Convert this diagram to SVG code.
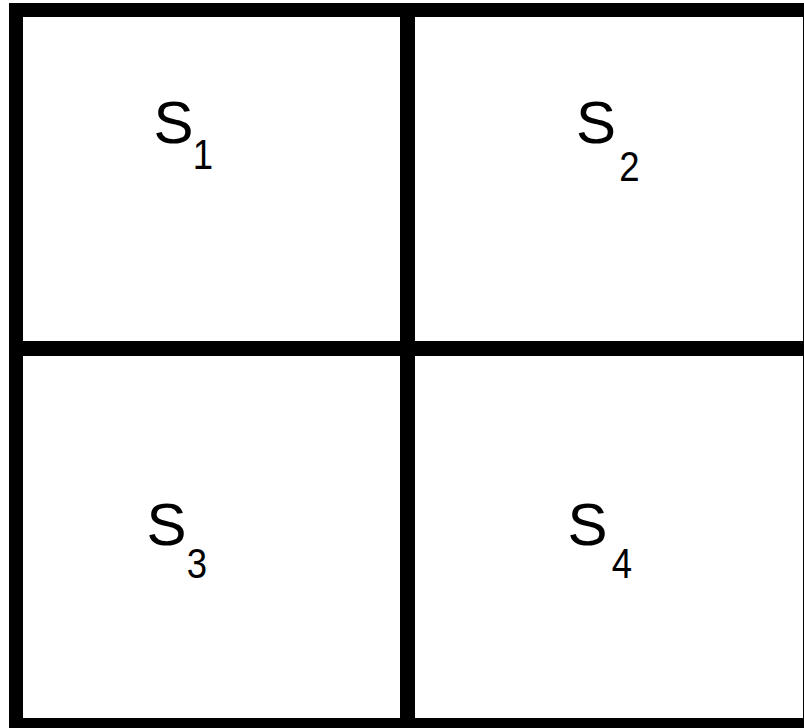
<svg xmlns="http://www.w3.org/2000/svg" width="804" height="728" viewBox="0 0 804 728">
<style>
.s{font-family:"Liberation Sans",Arial,sans-serif;font-size:60px;fill:#000;text-anchor:middle}
.d{font-family:"Liberation Sans",Arial,sans-serif;font-size:43px;fill:#000;text-anchor:middle}
.ln{fill:#000}
</style>
<rect x="0" y="0" width="804" height="728" fill="#fff"/>
<g id="grid">
<rect class="ln" x="9" y="3" width="14" height="725"/>
<rect class="ln" x="400" y="3" width="15" height="725"/>
<rect class="ln" x="803" y="3" width="1" height="725"/>
<rect class="ln" x="9" y="3" width="795" height="14"/>
<rect class="ln" x="9" y="341" width="795" height="15"/>
<rect class="ln" x="9" y="718" width="795" height="10"/>
</g>
<g id="s1">
<text class="s" x="173.5" y="143">S</text>
<text class="d" transform="translate(203 169) scale(0.85 1)" x="0" y="0">1</text>
</g>
<g id="s2">
<text class="s" x="596" y="143">S</text>
<text class="d" transform="translate(629.5 181) scale(0.85 1)" x="0" y="0">2</text>
</g>
<g id="s3">
<text class="s" x="166.5" y="545">S</text>
<text class="d" transform="translate(197 578) scale(0.85 1)" x="0" y="0">3</text>
</g>
<g id="s4">
<text class="s" x="587.5" y="545">S</text>
<text class="d" transform="translate(622 578) scale(0.85 1)" x="0" y="0">4</text>
</g>
</svg>
